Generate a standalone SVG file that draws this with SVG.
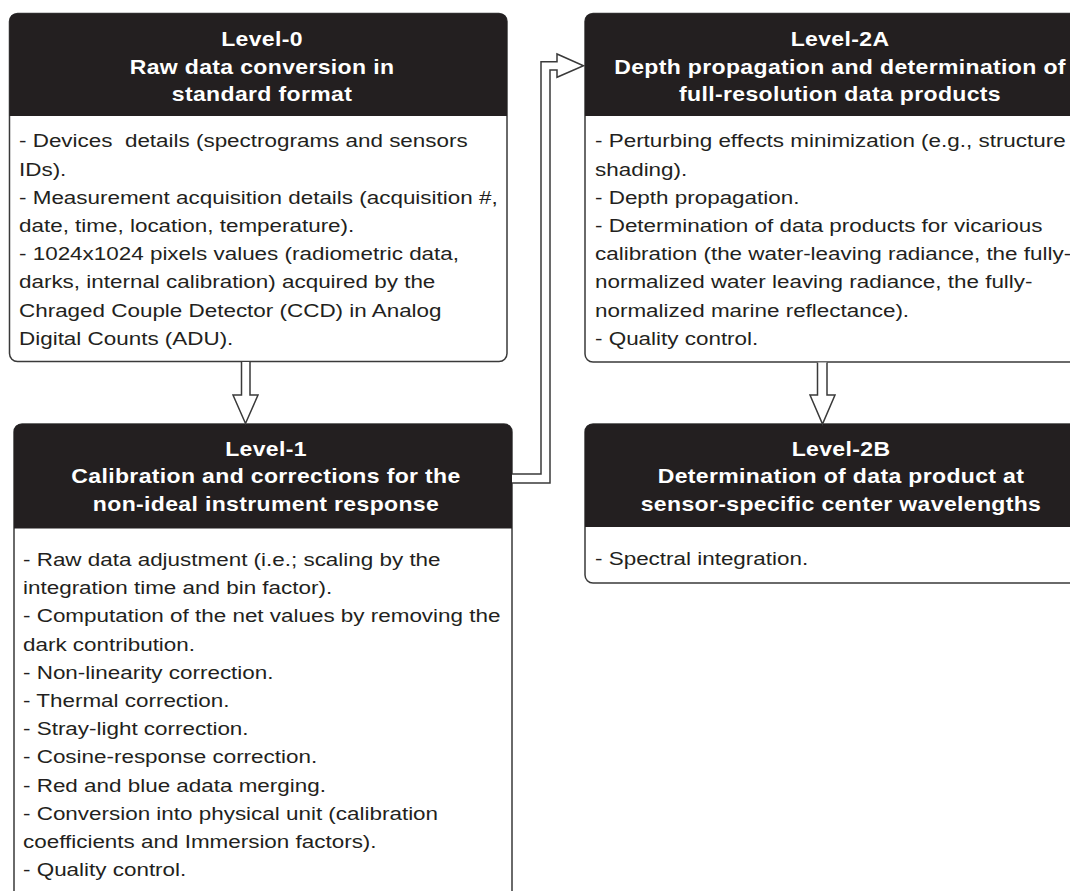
<svg xmlns="http://www.w3.org/2000/svg" width="1070" height="891" viewBox="0 0 1070 891">
<style>
.box{fill:#fff;stroke:#3a3a3a;stroke-width:1.5}
.hdr{fill:#231f20}
.ht{font-family:"Liberation Sans",Arial,sans-serif;font-weight:bold;font-size:19.5px;fill:#fff;text-anchor:middle;letter-spacing:0.3px}
.bt{font-family:"Liberation Sans",Arial,sans-serif;font-size:18.7px;fill:#231f20;white-space:pre}
.conn{fill:#fff;stroke:#3a3a3a;stroke-width:1.5;stroke-linejoin:miter}
</style>
<rect width="1070" height="891" fill="#fff"/>
<g id="level0">
<rect class="box" x="9.5" y="13.5" width="497.5" height="348" rx="8"/>
<path class="hdr" d="M9.5,116 V21.5 Q9.5,13.5 17.5,13.5 H499 Q507,13.5 507,21.5 V116 Z"/>
<g transform="translate(262,0) scale(1.18,1)">
<text class="ht" x="0" y="45.7">Level-0</text>
<text class="ht" x="0" y="73.7">Raw data conversion in</text>
<text class="ht" x="0" y="101.3">standard format</text>
</g>
<g transform="translate(19,0) scale(1.2,1)">
<text class="bt" x="0" y="147.5">- Devices  details (spectrograms and sensors</text>
<text class="bt" x="0" y="175.7">IDs).</text>
<text class="bt" x="0" y="203.9">- Measurement acquisition details (acquisition #,</text>
<text class="bt" x="0" y="232.1">date, time, location, temperature).</text>
<text class="bt" x="0" y="260.3">- 1024x1024 pixels values (radiometric data,</text>
<text class="bt" x="0" y="288.5">darks, internal calibration) acquired by the</text>
<text class="bt" x="0" y="316.7">Chraged Couple Detector (CCD) in Analog</text>
<text class="bt" x="0" y="344.9">Digital Counts (ADU).</text>
</g>
</g>
<g id="level1">
<rect class="box" x="14" y="424" width="498" height="500" rx="8"/>
<path class="hdr" d="M14,528.5 V432 Q14,424 22,424 H504 Q512,424 512,432 V528.5 Z"/>
<g transform="translate(266,0) scale(1.18,1)">
<text class="ht" x="0" y="456">Level-1</text>
<text class="ht" x="0" y="483.5">Calibration and corrections for the</text>
<text class="ht" x="0" y="511.3">non-ideal instrument response</text>
</g>
<g transform="translate(23,0) scale(1.2,1)">
<text class="bt" x="0" y="566">- Raw data adjustment (i.e.; scaling by the</text>
<text class="bt" x="0" y="594.2">integration time and bin factor).</text>
<text class="bt" x="0" y="622.4">- Computation of the net values by removing the</text>
<text class="bt" x="0" y="650.6">dark contribution.</text>
<text class="bt" x="0" y="678.8">- Non-linearity correction.</text>
<text class="bt" x="0" y="707">- Thermal correction.</text>
<text class="bt" x="0" y="735.2">- Stray-light correction.</text>
<text class="bt" x="0" y="763.4">- Cosine-response correction.</text>
<text class="bt" x="0" y="791.6">- Red and blue adata merging.</text>
<text class="bt" x="0" y="819.8">- Conversion into physical unit (calibration</text>
<text class="bt" x="0" y="848">coefficients and Immersion factors).</text>
<text class="bt" x="0" y="876.2">- Quality control.</text>
</g>
</g>
<g id="level2a">
<rect class="box" x="585" y="13.5" width="510" height="348.5" rx="8"/>
<path class="hdr" d="M585,116 V21.5 Q585,13.5 593,13.5 H1087 Q1095,13.5 1095,21.5 V116 Z"/>
<g transform="translate(840,0) scale(1.18,1)">
<text class="ht" x="0" y="45.7">Level-2A</text>
<text class="ht" x="0" y="73.7">Depth propagation and determination of</text>
<text class="ht" x="0" y="101.3">full-resolution data products</text>
</g>
<g transform="translate(595,0) scale(1.2,1)">
<text class="bt" x="0" y="147.5">- Perturbing effects minimization (e.g., structure</text>
<text class="bt" x="0" y="175.7">shading).</text>
<text class="bt" x="0" y="203.9">- Depth propagation.</text>
<text class="bt" x="0" y="232.1">- Determination of data products for vicarious</text>
<text class="bt" x="0" y="260.3">calibration (the water-leaving radiance, the fully-</text>
<text class="bt" x="0" y="288.5">normalized water leaving radiance, the fully-</text>
<text class="bt" x="0" y="316.7">normalized marine reflectance).</text>
<text class="bt" x="0" y="344.9">- Quality control.</text>
</g>
</g>
<g id="level2b">
<rect class="box" x="585" y="424" width="510" height="159" rx="8"/>
<path class="hdr" d="M585,527 V432 Q585,424 593,424 H1087 Q1095,424 1095,432 V527 Z"/>
<g transform="translate(841,0) scale(1.18,1)">
<text class="ht" x="0" y="456">Level-2B</text>
<text class="ht" x="0" y="483.5">Determination of data product at</text>
<text class="ht" x="0" y="511.3">sensor-specific center wavelengths</text>
</g>
<g transform="translate(595,0) scale(1.2,1)">
<text class="bt" x="0" y="565">- Spectral integration.</text>
</g>
</g>
<g id="connectors">
<path class="conn" d="M241.5,362 V395 H233 L245.5,423.5 L258,395 H250 V362"/>
<path class="conn" d="M817.5,362.5 V395 H810 L822.5,424 L835,395 H827 V362.5"/>
<path class="conn" d="M512,474 H541 V61.7 H557 V54 L583.5,65.7 L557,77.3 V70 H550 V483 H512"/>
</g>
</svg>
